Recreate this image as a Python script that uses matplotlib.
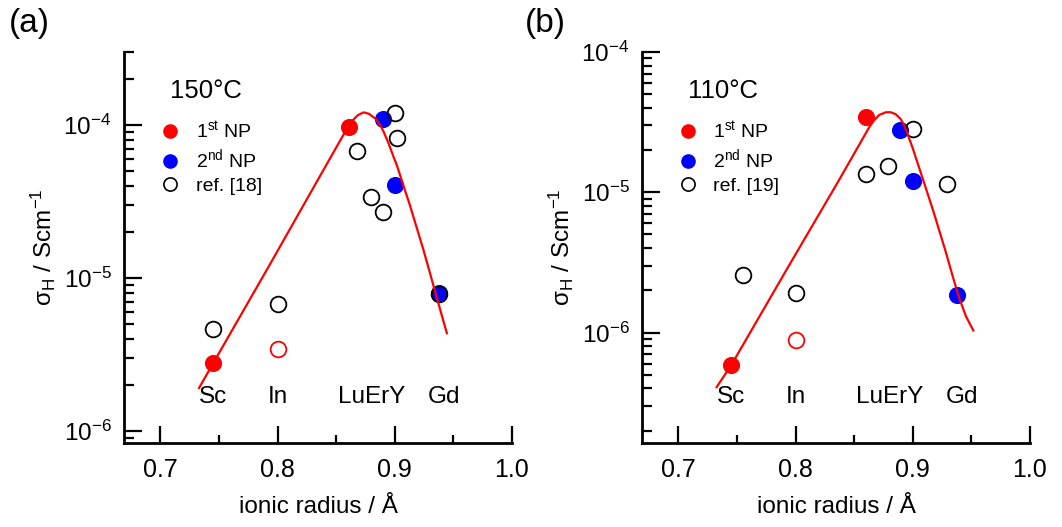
import matplotlib
matplotlib.use('Agg')
import matplotlib.pyplot as plt
from matplotlib.lines import Line2D
from matplotlib.ticker import (MultipleLocator, FormatStrFormatter, LogLocator, NullFormatter)

plt.rcParams['font.family'] = ['Liberation Sans', 'DejaVu Sans']
plt.rcParams['mathtext.fontset'] = 'custom'
plt.rcParams['mathtext.rm'] = 'Liberation Sans'
plt.rcParams['mathtext.it'] = 'Liberation Sans:italic'

# element labels (placed at their ionic radius)
elements = ['Sc', 'In', 'LuErY', 'Gd']
element_x = [0.745, 0.800, 0.880, 0.942]

# ---- panel (a), 150 C ----
np1_x_a = [0.745, 0.861]
np1_y_a = [2.77e-6, 9.66e-5]
np2_x_a = [0.890, 0.900, 0.938]
np2_y_a = [1.09e-4, 4.03e-5, 7.94e-6]
ref_x_a = [0.745, 0.800, 0.868, 0.880, 0.890, 0.900, 0.902, 0.938]
ref_y_a = [4.67e-6, 6.8e-6, 6.76e-5, 3.4e-5, 2.7e-5, 1.19e-4, 8.18e-5, 7.9e-6]
in_x_a = [0.800]
in_y_a = [3.44e-6]
fit_x_a = [0.733, 0.745, 0.793, 0.835, 0.8599, 0.8641, 0.8683, 0.8725, 0.8739,
           0.878, 0.8836, 0.8878, 0.8906, 0.8948, 0.899, 0.9018, 0.9073, 0.9129,
           0.9185, 0.9241, 0.9297, 0.9352, 0.9408, 0.9444]
fit_y_a = [1.91e-6, 2.77e-6, 1.21e-5, 4.47e-5, 9.68e-5, 1.072e-4, 1.156e-4, 1.202e-4,
           1.208e-4, 1.183e-4, 1.099e-4, 9.93e-5, 8.99e-5, 7.55e-5, 6.18e-5, 5.45e-5,
           4.04e-5, 2.99e-5, 2.16e-5, 1.56e-5, 1.10e-5, 7.74e-6, 5.46e-6, 4.36e-6]

# ---- panel (b), 110 C ----
np1_x_b = [0.745, 0.860]
np1_y_b = [5.82e-7, 3.43e-5]
np2_x_b = [0.889, 0.900, 0.938]
np2_y_b = [2.8e-5, 1.21e-5, 1.86e-6]
ref_x_b = [0.755, 0.800, 0.860, 0.879, 0.900, 0.929]
ref_y_b = [2.58e-6, 1.91e-6, 1.35e-5, 1.53e-5, 2.83e-5, 1.15e-5]
in_x_b = [0.800]
in_y_b = [8.87e-7]
fit_x_b = [0.7327, 0.745, 0.7947, 0.8366, 0.8632, 0.8673, 0.8715, 0.8771, 0.8813,
           0.8855, 0.8897, 0.8925, 0.8953, 0.8995, 0.9065, 0.912, 0.9176, 0.9232,
           0.9288, 0.9344, 0.9399, 0.9455, 0.9517]
fit_y_b = [4.08e-7, 5.82e-7, 3.03e-6, 1.20e-5, 2.94e-5, 3.28e-5, 3.56e-5, 3.72e-5,
           3.72e-5, 3.60e-5, 3.33e-5, 3.02e-5, 2.64e-5, 2.12e-5, 1.41e-5, 1.02e-5,
           7.33e-6, 5.15e-6, 3.61e-6, 2.47e-6, 1.74e-6, 1.30e-6, 1.035e-6]

MS = 11.3


def panel(ax, fx, fy, x1, y1, x2, y2, xr, yr, xi, yi, ylim, temp, ref):
  ax.plot(x1, y1, 'o', color='red', ms=MS, mec='red', zorder=3)
  ax.plot(x2, y2, 'o', color='blue', ms=MS, mec='blue', zorder=3)
  ax.plot(xr, yr, 'o', mfc='none', mec='black', ms=MS, mew=1.3, zorder=4)
  ax.plot(xi, yi, 'o', mfc='none', mec='red', ms=MS, mew=1.3, zorder=4)
  ax.plot(fx, fy, '-', color='red', lw=1.6, zorder=5)

  ax.set_yscale('log')
  ax.set_xlim(0.669, 1.0)
  ax.set_ylim(*ylim)

  for s in ['top', 'right']:
    ax.spines[s].set_visible(False)
  for s in ['left', 'bottom']:
    ax.spines[s].set_linewidth(2.0)

  ax.xaxis.set_major_locator(MultipleLocator(0.1))
  ax.xaxis.set_minor_locator(MultipleLocator(0.05))
  ax.xaxis.set_major_formatter(FormatStrFormatter('%.1f'))
  ax.yaxis.set_major_locator(LogLocator(base=10))
  ax.yaxis.set_minor_locator(LogLocator(base=10, subs=range(2, 10)))
  ax.yaxis.set_minor_formatter(NullFormatter())
  ax.tick_params(which='both', direction='in', width=1.6)
  ax.tick_params(axis='x', which='major', length=12, pad=11, labelsize=18)
  ax.tick_params(axis='x', which='minor', length=6)
  ax.tick_params(axis='y', which='major', length=13, pad=9, labelsize=17.5)
  ax.tick_params(axis='y', which='minor', length=7)

  ax.set_xlabel('ionic radius / Å', fontsize=17.5, labelpad=10)
  ax.set_ylabel('σ$_\\mathregular{H}$ / Scm$^\\mathregular{-1}$', fontsize=17.5, labelpad=4)

  for name, ex in zip(elements, element_x):
    ax.text(ex, 0.118, name, transform=ax.get_xaxis_transform(),
            ha='center', va='center', fontsize=17.5)

  ax.text(0.1186, 0.882, temp, transform=ax.transAxes, fontsize=18.5, va='baseline')

  handles = [
    Line2D([], [], ls='none', marker='o', color='red', ms=9.5),
    Line2D([], [], ls='none', marker='o', color='blue', ms=9.5),
    Line2D([], [], ls='none', marker='o', mfc='none', mec='black', ms=9.5, mew=1.2),
  ]
  labels = ['1$^\\mathregular{st}$ NP', '2$^\\mathregular{nd}$ NP', ref]
  ax.legend(handles, labels, loc='upper left', bbox_to_anchor=(0.094, 0.826),
            frameon=False, fontsize=14, handlelength=1.0, handletextpad=0.8,
            borderpad=0, borderaxespad=0, labelspacing=0.3, numpoints=1)


fig = plt.figure(figsize=(10.62, 5.27), dpi=100)
ax1 = fig.add_axes([0.1168, 0.1594, 0.3653, 0.7419])
ax2 = fig.add_axes([0.6045, 0.1594, 0.3653, 0.7419])

panel(ax1, fit_x_a, fit_y_a, np1_x_a, np1_y_a, np2_x_a, np2_y_a, ref_x_a, ref_y_a,
      in_x_a, in_y_a, (8.35e-7, 3.0e-4), '150°C', 'ref. [18]')
panel(ax2, fit_x_b, fit_y_b, np1_x_b, np1_y_b, np2_x_b, np2_y_b, ref_x_b, ref_y_b,
      in_x_b, in_y_b, (1.63e-7, 1.0e-4), '110°C', 'ref. [19]')

fig.text(9 / 1062, 1 - 8 / 527, '(a)', fontsize=24, va='top', ha='left')
fig.text(525 / 1062, 1 - 8 / 527, '(b)', fontsize=24, va='top', ha='left')

plt.savefig('out.png', dpi=100)
